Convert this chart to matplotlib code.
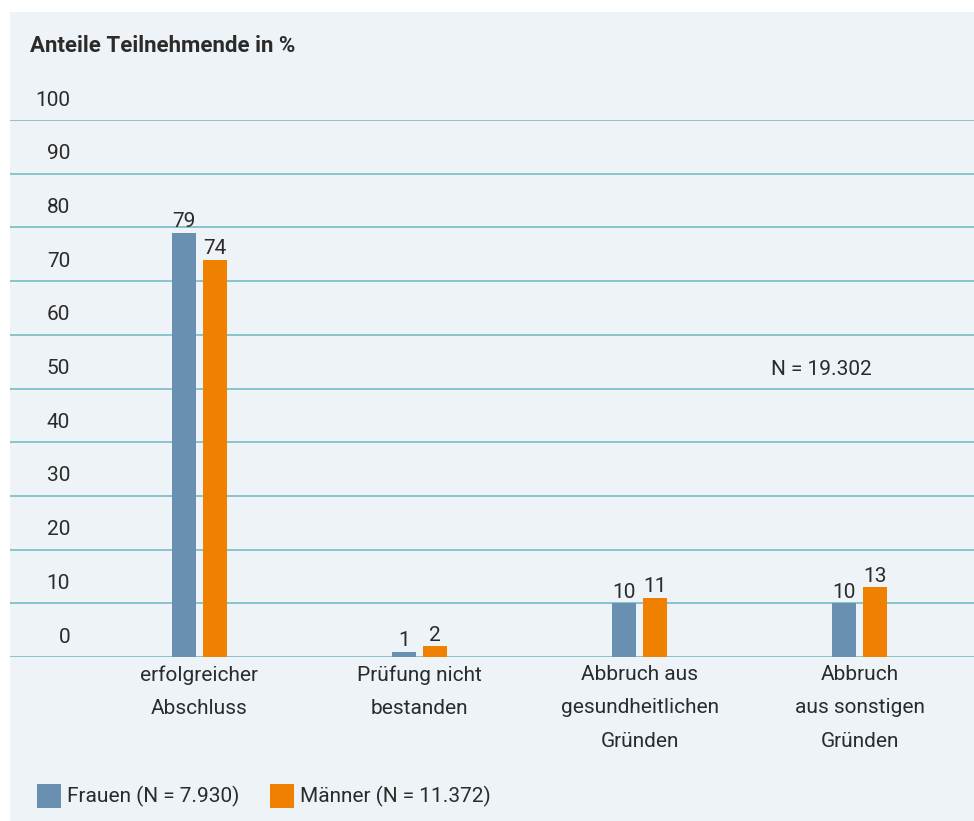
import matplotlib
matplotlib.use('Agg')
import matplotlib.pyplot as plt
from matplotlib.patches import Rectangle
import numpy as np

categories = ['erfolgreicher\nAbschluss', 'Prüfung nicht\nbestanden',
              'Abbruch aus\ngesundheitlichen\nGründen', 'Abbruch\naus sonstigen\nGründen']
frauen = [79, 1, 10, 10]
maenner = [74, 2, 11, 13]
yticks = [0, 10, 20, 30, 40, 50, 60, 70, 80, 90, 100]
legend_labels = ['Frauen (N = 7.930)', 'Männer (N = 11.372)']

BG = '#eef3f7'
BLUE = '#6990b1'
ORANGE = '#f08100'
GRID = '#80c0c8'
TXT = '#2b2b2b'
FS = 15

plt.rcParams['font.family'] = ['Roboto', 'DejaVu Sans']

W, H = 974, 821
fig = plt.figure(figsize=(W / 100, H / 100), dpi=100)
fig.patch.set_facecolor('white')
fig.patches.append(Rectangle((10 / W, 0), 1 - 10 / W, 1 - 12 / H,
                             transform=fig.transFigure, facecolor=BG,
                             edgecolor='none', zorder=-10))

# axes: y 0 at px 657, 100 at px 120
ax = fig.add_axes([10 / W, (H - 657) / H, 1 - 10 / W, (657 - 120) / H])
ax.set_facecolor('none')
unit = 220.33
ax.set_xlim((10 - 199) / unit, 3 + (974 - 860) / unit)
ax.set_ylim(0, 100)
for s in ax.spines.values():
    s.set_visible(False)
ax.set_xticks([])
ax.set_yticks([])

for v in yticks:
    ax.axhline(v, color=GRID, lw=1.3, zorder=1)

x = np.arange(len(categories))
w = 24 / unit
off = 15.5 / unit
ax.bar(x - off, frauen, w, color=BLUE, zorder=3)
ax.bar(x + off, maenner, w, color=ORANGE, zorder=3)

for xi, a, b in zip(x, frauen, maenner):
    ax.text(xi - off, a + 0.3, str(a), ha='center', va='bottom', fontsize=FS, color=TXT)
    ax.text(xi + off, b + 0.3, str(b), ha='center', va='bottom', fontsize=FS, color=TXT)

# y tick labels sit above the gridlines
for v in yticks:
    ax.annotate(str(v), xy=(0, v), xycoords=('axes fraction', 'data'),
                xytext=(60, 20), textcoords='offset pixels',
                ha='right', va='center', fontsize=FS, color=TXT)

for xi, c in zip(x, categories):
    ax.annotate(c, xy=(xi, 0), xycoords='data', xytext=(0, -8),
                textcoords='offset pixels', ha='center', va='top',
                fontsize=FS, color=TXT, linespacing=1.95)

ax.annotate('N = 19.302', xy=(0, 50), xycoords=('axes fraction', 'data'),
            xytext=(761, 19), textcoords='offset pixels',
            ha='left', va='center', fontsize=FS, color=TXT)

fig.text(30 / W, 1 - 46 / H, 'Anteile Teilnehmende in %', fontsize=16,
         fontweight='bold', color=TXT, ha='left', va='center')

# legend
for px, col, lab in [(37, BLUE, legend_labels[0]), (270, ORANGE, legend_labels[1])]:
    fig.patches.append(Rectangle((px / W, 1 - 808 / H), 24 / W, 24 / H,
                                 transform=fig.transFigure, facecolor=col,
                                 edgecolor='none'))
    fig.text((px + 30) / W, 1 - 796 / H, lab, fontsize=FS, color=TXT,
             ha='left', va='center')

fig.savefig('out.png', dpi=100, facecolor='white')
